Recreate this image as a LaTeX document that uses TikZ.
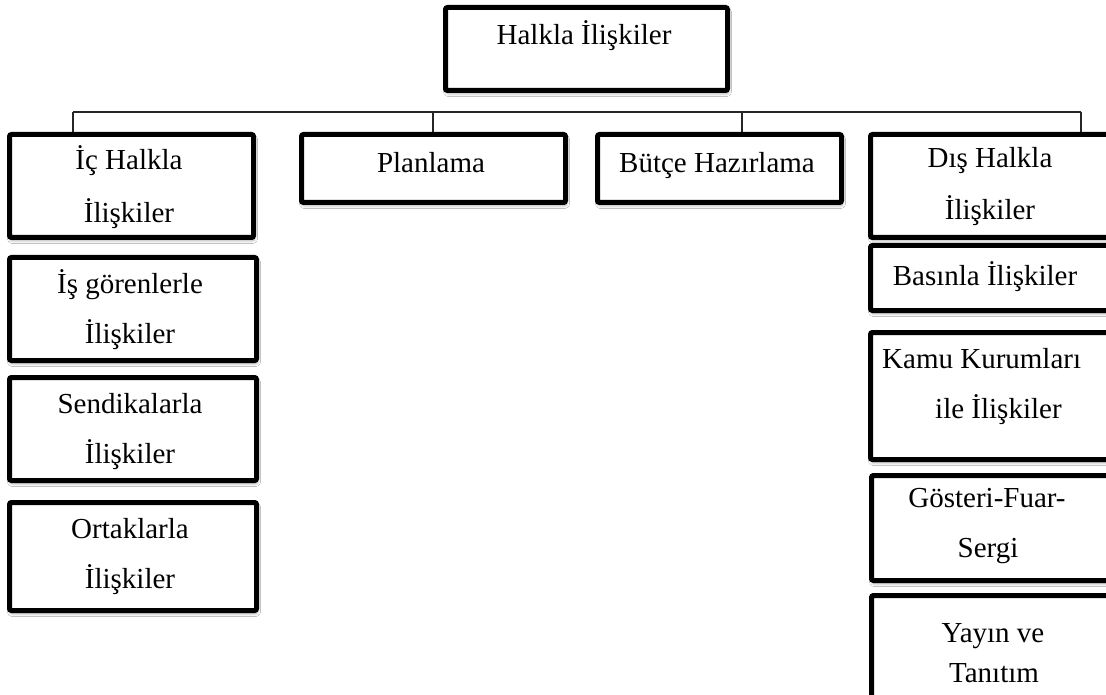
\documentclass[tikz,border=0pt]{standalone}
\usepackage{fontspec}
\setmainfont{Liberation Serif}
\usetikzlibrary{calc,shadows.blur}
\begin{document}
\begin{tikzpicture}[x=1pt,y=-1pt,
  box/.style={draw=black, line width=5pt, rounded corners=2pt, fill=white,
    blur shadow={shadow xshift=1pt, shadow yshift=-3pt, shadow blur radius=3pt, shadow opacity=35},
    inner sep=0pt, anchor=north west},
  lbl/.style={anchor=base, inner sep=0pt, font=\fontsize{29}{34}\selectfont},
  bus/.style={line width=1.5pt, draw=black!85}]
\useasboundingbox[fill=white] (0,0) rectangle (1106,695);

% boxes
\node[box, minimum width=282pt, minimum height=83pt]  (top)   at (443,5)   {};
\node[box, minimum width=244pt, minimum height=103pt] (ic)    at (7,132)   {};
\node[box, minimum width=264pt, minimum height=68pt]  (plan)  at (299,132) {};
\node[box, minimum width=244pt, minimum height=68pt]  (butce) at (595,132) {};
\node[box, minimum width=244pt, minimum height=103pt] (dis)   at (868,132) {};
\node[box, minimum width=247pt, minimum height=103pt] (isg)   at (7,255)   {};
\node[box, minimum width=247pt, minimum height=103pt] (sen)   at (7,375)   {};
\node[box, minimum width=247pt, minimum height=108pt] (ort)   at (7,500)   {};
\node[box, minimum width=244pt, minimum height=65pt]  (bas)   at (868,243) {};
\node[box, minimum width=244pt, minimum height=127pt] (kamu)  at (868,330) {};
\node[box, minimum width=244pt, minimum height=105pt] (gos)   at (869,473) {};
\node[box, minimum width=244pt, minimum height=120pt] (yay)   at (869,593) {};

% labels
\node[lbl] (top-t)   at (584,45)  {Halkla İlişkiler};
\node[lbl] (ic-t1)   at (129,170) {İç Halkla};
\node[lbl] (ic-t2)   at (129,223) {İlişkiler};
\node[lbl] (plan-t)  at (431,173) {Planlama};
\node[lbl] (butce-t) at (717,173) {Bütçe Hazırlama};
\node[lbl] (dis-t1)  at (990,168) {Dış Halkla};
\node[lbl] (dis-t2)  at (990,220) {İlişkiler};
\node[lbl] (isg-t1)  at (130,293) {İş görenlerle};
\node[lbl] (isg-t2)  at (130,343) {İlişkiler};
\node[lbl] (sen-t1)  at (130,413) {Sendikalarla};
\node[lbl] (sen-t2)  at (130,463) {İlişkiler};
\node[lbl] (ort-t1)  at (130,538) {Ortaklarla};
\node[lbl] (ort-t2)  at (130,588) {İlişkiler};
\node[lbl] (bas-t)   at (985,285) {Basınla İlişkiler};
\node[lbl, anchor=base west] (kamu-t1) at (882,368) {Kamu Kurumları};
\node[lbl, anchor=base west] (kamu-t2) at (935,418) {ile İlişkiler};
\node[lbl] (gos-t1)  at (987,507) {Gösteri-Fuar-};
\node[lbl] (gos-t2)  at (988,557) {Sergi};
\node[lbl] (yay-t1)  at (993,642) {Yayın ve};
\node[lbl] (yay-t2)  at (994,682) {Tanıtım};

% branch line and drops
\coordinate (b1) at (73,112);
\coordinate (b2) at (433,112);
\coordinate (b3) at (742,112);
\coordinate (b4) at (1081,112);
\draw[bus] (b1) -- (b4);
\draw[bus] (b1) -- (b1 |- ic.north);
\draw[bus] (b2) -- (b2 |- plan.north);
\draw[bus] (b3) -- (b3 |- butce.north);
\draw[bus] (b4) -- (b4 |- dis.north);
\end{tikzpicture}
\end{document}
